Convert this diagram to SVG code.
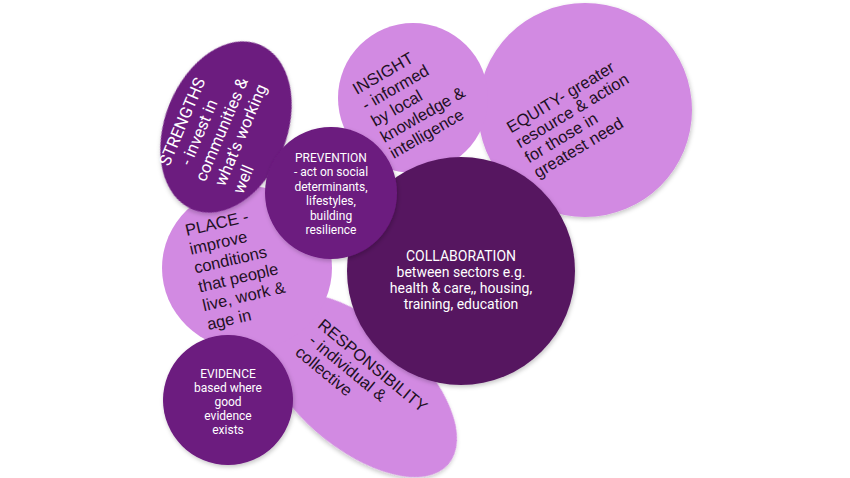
<svg xmlns="http://www.w3.org/2000/svg" width="850" height="478" viewBox="0 0 850 478">
<defs>
<filter id="sh" x="-10%" y="-10%" width="125%" height="125%">
<feDropShadow dx="1" dy="2" stdDeviation="2" flood-color="#000000" flood-opacity="0.22"/>
</filter>
</defs>
<style>
.light{fill:#d28ae2}
.dark{fill:#6c1a7f}
.darker{fill:#561660}
.lt{font-family:"Liberation Sans",Arial,sans-serif;font-size:16.5px;fill:#1e1024}
.wt{font-family:Roboto,"Liberation Sans",sans-serif;fill:#ffffff;text-anchor:middle}
.ws{font-family:Roboto,"Liberation Sans",sans-serif;fill:#ffffff;font-size:16.5px}
</style>
<rect width="850" height="478" fill="#ffffff"/>
<g id="connectors"/>
<g id="responsibility">
<ellipse class="light" cx="357" cy="385" rx="121" ry="62" transform="rotate(41 357 385)" filter="url(#sh)"/>
<text class="lt" font-size="16" transform="translate(316.7,326.7) rotate(39.5)"><tspan x="0" y="0">RESPONSIBILITY</tspan><tspan x="3" y="17.7">- individual &amp;</tspan><tspan x="0" y="35.4">collective</tspan></text>
</g>
<g id="place">
<ellipse class="light" cx="247" cy="268" rx="85" ry="82"/>
<text class="lt" transform="translate(186.7,236) rotate(-13)"><tspan x="0" y="0">PLACE -</tspan><tspan x="0" y="19.3">improve</tspan><tspan x="0" y="38.6">conditions</tspan><tspan x="0" y="57.9">that people</tspan><tspan x="0" y="77.2">live, work &amp;</tspan><tspan x="0" y="96.5">age in</tspan></text>
</g>
<g id="equity">
<circle class="light" cx="585" cy="110" r="107" filter="url(#sh)"/>
<text class="lt" transform="translate(511,133.5) rotate(-31)"><tspan x="0" y="0">EQUITY- greater</tspan><tspan x="0" y="17.5">resource &amp; action</tspan><tspan x="0" y="35">for those in</tspan><tspan x="0" y="52.5">greatest need</tspan></text>
</g>
<g id="insight">
<circle class="light" cx="413" cy="98" r="75"/>
<text class="lt" transform="translate(356.7,95) rotate(-30)"><tspan x="0" y="0">INSIGHT</tspan><tspan x="0" y="18.5">- informed</tspan><tspan x="0" y="37">by local</tspan><tspan x="0" y="55.5">knowledge &amp;</tspan><tspan x="0" y="74">intelligence</tspan></text>
</g>
<g id="collaboration">
<circle class="darker" cx="461" cy="271" r="114" filter="url(#sh)"/>
<text class="wt" font-size="14"><tspan x="461" y="261">COLLABORATION</tspan><tspan x="461" y="277">between sectors e.g.</tspan><tspan x="461" y="293">health &amp; care,, housing,</tspan><tspan x="461" y="309">training, education</tspan></text>
</g>
<g id="strengths">
<ellipse class="dark" cx="226" cy="127" rx="61" ry="89" transform="rotate(22 226 127)" filter="url(#sh)"/>
<text class="ws" transform="translate(169,167) rotate(-67)"><tspan x="0" y="0">STRENGTHS</tspan><tspan x="9" y="19.7">- invest in</tspan><tspan x="0" y="39.4">communities &amp;</tspan><tspan x="3" y="59.1">what's working</tspan><tspan x="3" y="78.8">well</tspan></text>
</g>
<g id="prevention">
<circle class="dark" cx="331" cy="193" r="66" filter="url(#sh)"/>
<text class="wt" font-size="12"><tspan x="331" y="161.5">PREVENTION</tspan><tspan x="331" y="176">- act on social</tspan><tspan x="331" y="190.5">determinants,</tspan><tspan x="331" y="205">lifestyles,</tspan><tspan x="331" y="219.5">building</tspan><tspan x="331" y="234">resilience</tspan></text>
</g>
<g id="evidence">
<circle class="dark" cx="228" cy="400" r="65" filter="url(#sh)"/>
<text class="wt" font-size="12"><tspan x="228" y="378">EVIDENCE</tspan><tspan x="228" y="392">based where</tspan><tspan x="228" y="406">good</tspan><tspan x="228" y="420">evidence</tspan><tspan x="228" y="434">exists</tspan></text>
</g>
</svg>
